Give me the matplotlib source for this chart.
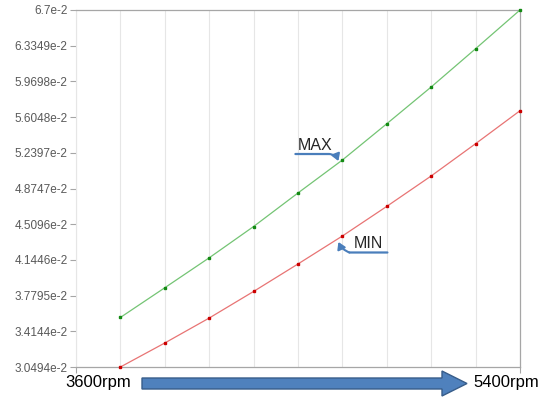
import matplotlib
matplotlib.use("Agg")
import matplotlib.pyplot as plt
from matplotlib.patches import Polygon
from matplotlib.transforms import offset_copy

# speed (rpm) and the two curves, values in units of 1e-2
rpm = [3600, 3800, 4000, 4200, 4400, 4600, 4800, 5000, 5200, 5400]
max_vals = [3.556, 3.860, 4.166, 4.486, 4.829, 5.166, 5.537, 5.913, 6.304, 6.700]
min_vals = [3.0494, 3.295, 3.550, 3.822, 4.103, 4.389, 4.692, 5.003, 5.333, 5.670]
ytick_labels = ["3.0494e-2", "3.4144e-2", "3.7795e-2", "4.1446e-2", "4.5096e-2",
                "4.8747e-2", "5.2397e-2", "5.6048e-2", "5.9698e-2", "6.3349e-2", "6.7e-2"]
x_start_label = "3600rpm"
x_end_label = "5400rpm"

plt.rcParams["font.family"] = ["Liberation Sans", "DejaVu Sans"]

W, H = 550, 398
fig = plt.figure(figsize=(W / 100, H / 100), dpi=100)
ax = fig.add_axes([76 / W, 1 - 367 / H, (520 - 76) / W, (367 - 10) / H])

ymin, ymax = 3.0494, 6.7
step = (ymax - ymin) / 10
yticks = [ymin + i * step for i in range(11)]
ax.set_ylim(ymin, ymax)
ax.set_xlim(3400, 5400)
ax.set_yticks(yticks)
ax.set_yticklabels(ytick_labels, fontsize=8.5, color="#595959")
ax.set_xticks([3400, 5400])
ax.set_xticklabels([])
ax.tick_params(axis="both", colors="#a6a6a6", length=4, width=0.8, labelcolor="#595959")
ax.tick_params(axis="y", pad=2)

# vertical grid lines
for x in [3400] + rpm[:-1]:
    ax.axvline(x, color="#e6e6e6", lw=0.8, zorder=0)

for side in ["top", "right", "bottom"]:
    ax.spines[side].set_color("#a6a6a6")
    ax.spines[side].set_linewidth(0.9)
ax.spines["left"].set_color("#e6e6e6")

ax.plot(rpm, max_vals, color="#74c474", lw=0.9, marker="s", ms=1.6,
        mfc="#138a13", mec="#138a13", clip_on=False, zorder=3)
ax.plot(rpm, min_vals, color="#e87474", lw=0.9, marker="s", ms=1.6,
        mfc="#cc0000", mec="#cc0000", clip_on=False, zorder=3)

blue = "#4a7ebb"
head = "-|>,head_length=0.4,head_width=0.25"

# MAX label (underline, then a bent arrow down to the point)
pmax = (rpm[5], max_vals[5])
ax.annotate("MAX", xy=pmax, xytext=(-45, 7), textcoords="offset pixels",
            fontsize=11.5, color="#262626", ha="left", va="bottom")
ax.annotate("", xy=pmax, xycoords=offset_copy(ax.transData, fig=fig, x=-13, y=6, units="dots"),
            xytext=(-34, 0), textcoords="offset pixels",
            arrowprops=dict(arrowstyle="-", color=blue, lw=1.6, shrinkA=0, shrinkB=0))
ax.annotate("", xy=pmax, xycoords=offset_copy(ax.transData, fig=fig, x=-4, y=-1, units="dots"),
            xytext=(-9, 7), textcoords="offset pixels",
            arrowprops=dict(arrowstyle=head, color=blue, lw=1.5,
                            shrinkA=0, shrinkB=0, connectionstyle="arc3,rad=-0.3"))

# MIN label
pmin = (rpm[5], min_vals[5])
ax.annotate("MIN", xy=pmin, xytext=(11, -15), textcoords="offset pixels",
            fontsize=11.5, color="#262626", ha="left", va="bottom")
ax.annotate("", xy=pmin, xycoords=offset_copy(ax.transData, fig=fig, x=45, y=-16.5, units="dots"),
            xytext=(-38, 0), textcoords="offset pixels",
            arrowprops=dict(arrowstyle="-", color=blue, lw=1.6, shrinkA=0, shrinkB=0))
ax.annotate("", xy=pmin, xycoords=offset_copy(ax.transData, fig=fig, x=-4, y=-6, units="dots"),
            xytext=(11, -10.5), textcoords="offset pixels",
            arrowprops=dict(arrowstyle=head, color=blue, lw=1.5,
                            shrinkA=0, shrinkB=0, connectionstyle="arc3,rad=-0.2"))

# bottom labels and big arrow
fig.text(98 / W, 1 - 383 / H, x_start_label, fontsize=12, ha="center", va="center", color="black")
fig.text(506 / W, 1 - 383 / H, x_end_label, fontsize=12, ha="center", va="center", color="black")

pts = [(142, 378), (442, 378), (442, 371), (467, 383.5), (442, 396), (442, 389), (142, 389)]
arrow = Polygon([(x / W, 1 - y / H) for x, y in pts], closed=True, transform=fig.transFigure,
                facecolor="#4f81bd", edgecolor="#385d8a", lw=1.0)
fig.patches.append(arrow)

fig.savefig("out.png", dpi=100)
